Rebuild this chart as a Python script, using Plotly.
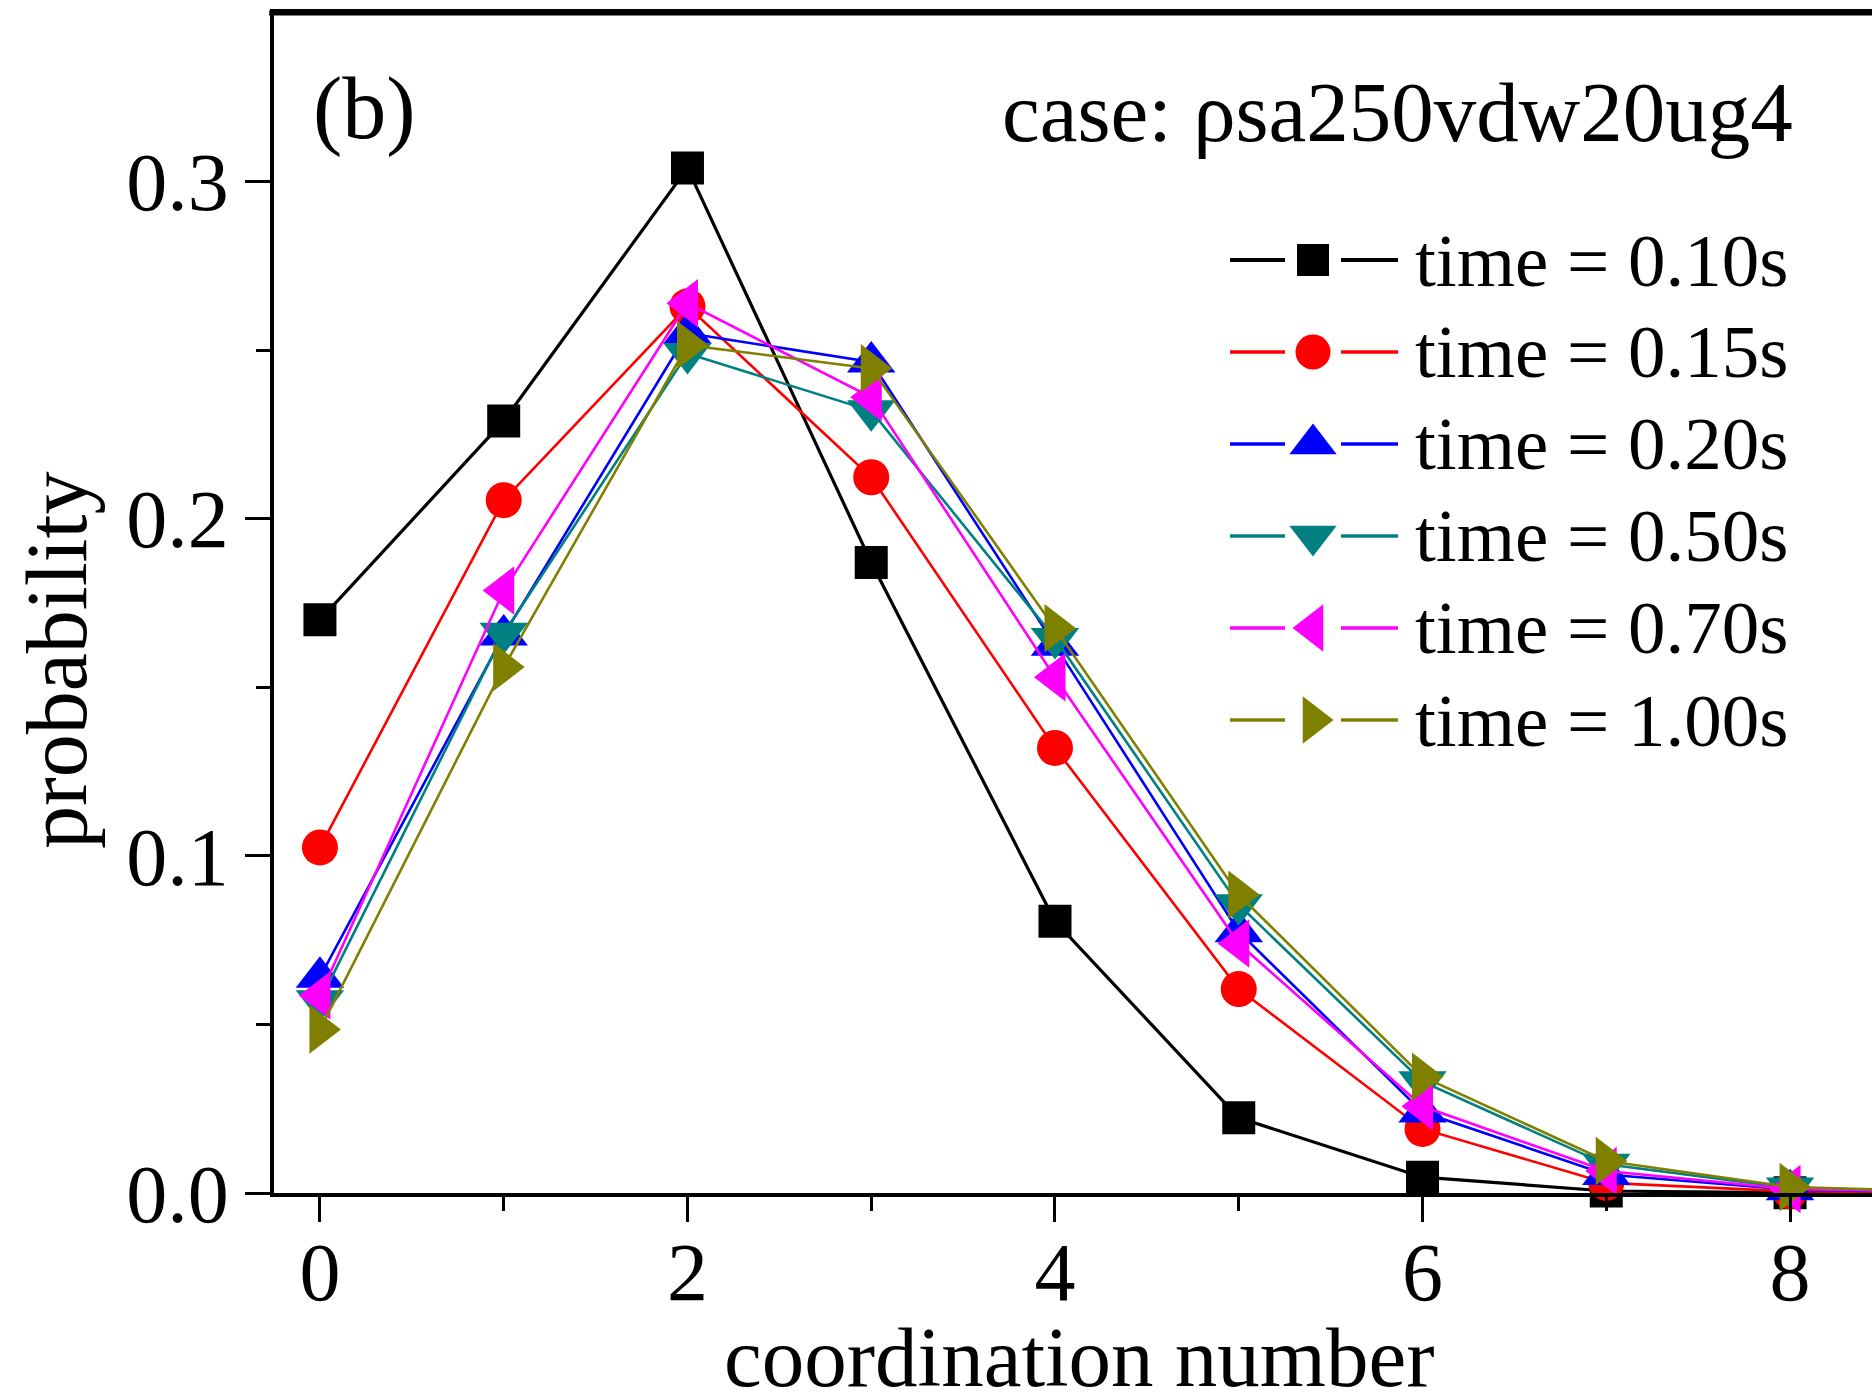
import plotly.graph_objects as go

# Coordination-number distributions at several times
coordination = [0, 1, 2, 3, 4, 5, 6, 7, 8, 9]
p_t010 = [0.170, 0.229, 0.304, 0.187, 0.0806, 0.0223, 0.0047, 0.0006, 0.0001, 0.0]
p_t015 = [0.1025, 0.2055, 0.263, 0.2123, 0.132, 0.0605, 0.0190, 0.0030, 0.0005, 0.0001]
p_t020 = [0.064, 0.1655, 0.255, 0.2465, 0.1625, 0.0775, 0.0240, 0.0055, 0.0010, 0.0001]
p_t050 = [0.057, 0.166, 0.249, 0.232, 0.1645, 0.0855, 0.0330, 0.0085, 0.0015, 0.0002]
p_t070 = [0.0586, 0.1787, 0.2639, 0.236, 0.1530, 0.0740, 0.0257, 0.0065, 0.0012, 0.0002]
p_t100 = [0.0485, 0.156, 0.2515, 0.2446, 0.1675, 0.0885, 0.0345, 0.0095, 0.0018, 0.0002]

series_names = ["time = 0.10s", "time = 0.15s", "time = 0.20s",
                "time = 0.50s", "time = 0.70s", "time = 1.00s"]
series_values = [p_t010, p_t015, p_t020, p_t050, p_t070, p_t100]

x_tick_vals = [0, 2, 4, 6, 8]
y_tick_vals = [0.0, 0.1, 0.2, 0.3]
y_tick_text = ["0.0", "0.1", "0.2", "0.3"]

# Styling
colors = ["#000000", "#FF0000", "#0000FF", "#008080", "#FF00FF", "#808000"]
symbols = ["square", "circle", "triangle-up", "triangle-down", "triangle-left", "triangle-right"]
marker_sizes = [33, 36, 42, 42, 42, 42]
line_widths = [3.2, 2.6, 2.6, 2.6, 2.6, 2.6]

FONT = "Liberation Serif"
W, H = 1872, 1393
PL, PR, PT, PB = 274, 1872, 13, 1193  # plot-area edges in pixels


def px(xp):
    return (xp - PL) / (PR - PL)


def py(yp):
    return (PB - yp) / (PB - PT)


fig = go.Figure()

for name, vals, c, s, ms, lw in zip(series_names, series_values, colors,
                                    symbols, marker_sizes, line_widths):
    fig.add_trace(go.Scatter(
        x=coordination, y=vals, name=name, mode="lines+markers",
        line=dict(color=c, width=lw),
        marker=dict(symbol=s, size=ms, color=c, opacity=1),
        cliponaxis=False, showlegend=False,
    ))

# Legend keys: two short line pieces with the marker between them, drawn on an
# overlay axis pair that spans the plot area in [0, 1] units
legend_rows = [260, 352, 444, 536, 628, 720]
seg1 = (1230, 1285)
seg2 = (1341, 1398)
key_mid = 1313
text_left = 1413
for name, c, s, ms, lw, row in zip(series_names, colors, symbols,
                                    marker_sizes, line_widths, legend_rows):
    fig.add_trace(go.Scatter(
        x=[px(seg1[0]), px(seg1[1]), None, px(seg2[0]), px(seg2[1])],
        y=[py(row), py(row), None, py(row), py(row)], mode="lines",
        line=dict(color=c, width=lw + 0.8),
        xaxis="x2", yaxis="y2", showlegend=False, hoverinfo="skip",
    ))
    fig.add_trace(go.Scatter(
        x=[px(key_mid)], y=[py(row)], mode="markers",
        marker=dict(symbol=s, size=ms - 1, color=c, opacity=1),
        xaxis="x2", yaxis="y2", showlegend=False, hoverinfo="skip",
    ))
    fig.add_annotation(
        x=px(text_left), y=py(row), xref="paper", yref="paper",
        text=name, showarrow=False, xanchor="left", yanchor="middle",
        font=dict(family=FONT, size=75, color="black"),
    )

# Panel label and case label
fig.add_annotation(x=px(311), y=py(108), xref="paper", yref="paper",
                   text="(b)", showarrow=False, xanchor="left", yanchor="middle",
                   font=dict(family=FONT, size=88, color="black"))
fig.add_annotation(x=px(1000), y=py(112), xref="paper", yref="paper",
                   text="case: ρsa250vdw20ug4", showarrow=False,
                   xanchor="left", yanchor="middle",
                   font=dict(family=FONT, size=85, color="black"))

# Axis titles
fig.add_annotation(x=px(57), y=py(661), xref="paper", yref="paper",
                   text="probability", showarrow=False, textangle=-90,
                   xanchor="center", yanchor="middle",
                   font=dict(family=FONT, size=86, color="black"))
fig.add_annotation(x=px(1079), y=py(1357), xref="paper", yref="paper",
                   text="coordination number", showarrow=False,
                   xanchor="center", yanchor="middle",
                   font=dict(family=FONT, size=85, color="black"))

# Heavier frame line along the top
fig.add_shape(type="line", xref="paper", yref="paper", x0=-0.003, x1=1, y0=1, y1=1,
              line=dict(color="black", width=5))

fig.update_layout(
    width=W, height=H,
    margin=dict(l=PL, r=W - PR, t=PT, b=H - PB, pad=0),
    paper_bgcolor="white", plot_bgcolor="white",
    font=dict(family=FONT, color="black"),
    xaxis=dict(
        range=[-0.25, 8.446], tickvals=x_tick_vals,
        ticks="outside", ticklen=25, tickwidth=3, tickcolor="black",
        ticklabelstandoff=-20,
        showline=True, linewidth=3.5, linecolor="black", mirror=True,
        showgrid=False, zeroline=False,
        tickfont=dict(family=FONT, size=82, color="black"),
        minor=dict(tickvals=[1, 3, 5, 7], ticks="outside", ticklen=14,
                   tickwidth=3, tickcolor="black", showgrid=False),
    ),
    yaxis=dict(
        range=[0, 0.35], tickvals=y_tick_vals, ticktext=y_tick_text,
        ticks="outside", ticklen=25, tickwidth=3, tickcolor="black",
        showline=True, linewidth=3.5, linecolor="black", mirror=False,
        showgrid=False, zeroline=False,
        tickfont=dict(family=FONT, size=82, color="black"),
        minor=dict(tickvals=[0.05, 0.15, 0.25], ticks="outside", ticklen=14,
                   tickwidth=3, tickcolor="black", showgrid=False),
    ),
    xaxis2=dict(overlaying="x", range=[0, 1], visible=False, fixedrange=True),
    yaxis2=dict(overlaying="y", range=[0, 1], visible=False, fixedrange=True),
)

fig.write_html("out.html")
